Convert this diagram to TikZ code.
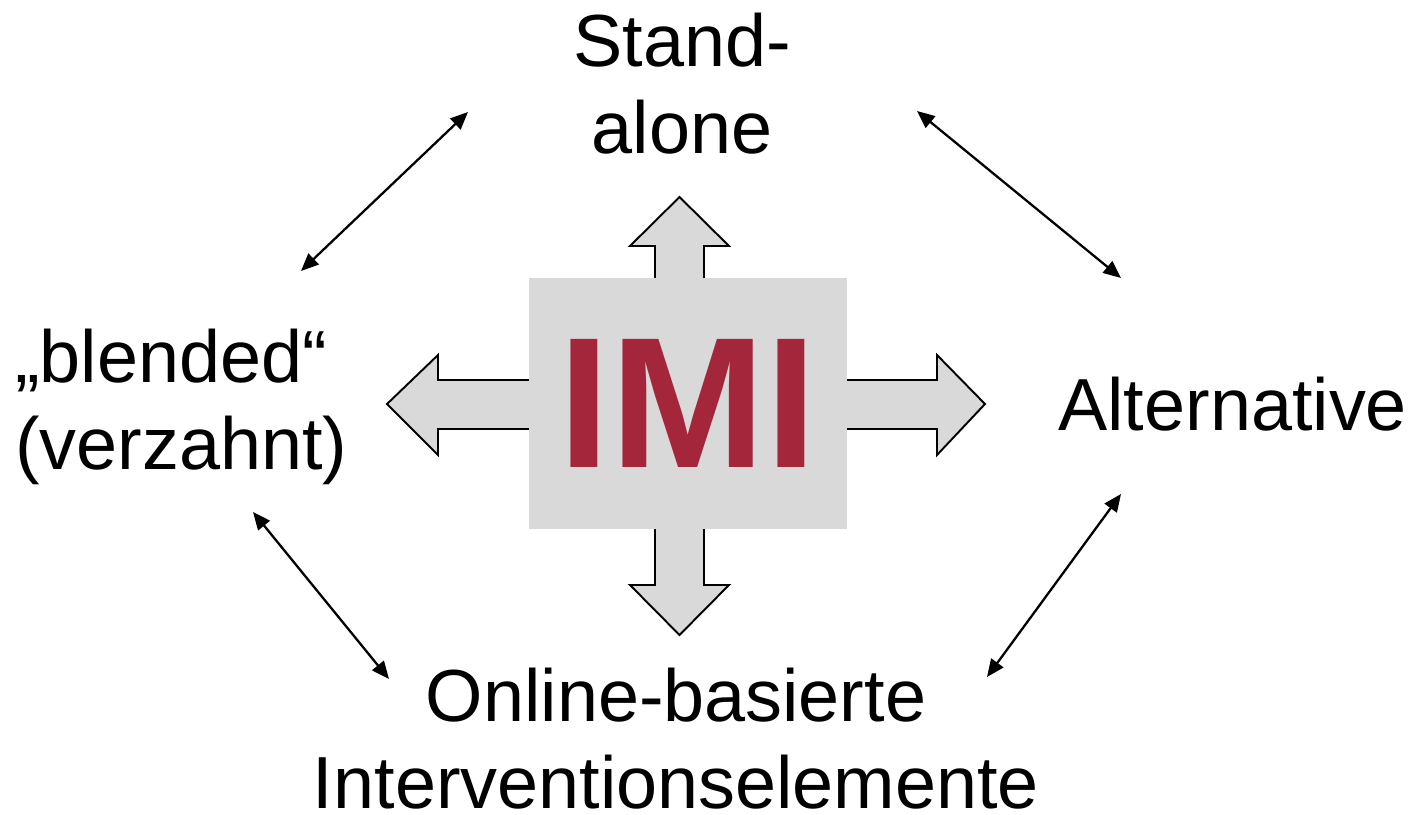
\documentclass[tikz,border=0pt]{standalone}
\usepackage{fontspec}
\setmainfont{Liberation Sans}
\usetikzlibrary{arrows.meta}
\definecolor{imigray}{HTML}{D9D9D9}
\definecolor{imired}{HTML}{A3263A}
\tikzset{
  blockarrow/.style={fill=imigray, draw=black, line width=1.1pt, line join=miter},
  labeltext/.style={font=\fontsize{42}{49}\selectfont, inner sep=0pt},
  linkarrow/.style={line width=1.3pt, {Triangle[length=10pt,width=8.5pt]}-{Triangle[length=10pt,width=8.5pt]}}
}
\begin{document}
\begin{tikzpicture}[x=0.02cm, y=-0.02cm]
        \useasboundingbox (0,0) rectangle (1418,815);

        \draw [blockarrow] (655,300)--(655,246)--(630,246)--(679.5,197)--(729,246)--(704,246)--(704,300);
        \draw [blockarrow] (655,500)--(655,585)--(630,585)--(679.5,635)--(729,585)--(704,585)--(704,500);
        \draw [blockarrow] (560,380)--(438,380)--(438,355)--(387,404)--(438,455)--(438,429)--(560,429);
        \draw [blockarrow] (820,380)--(937,380)--(937,355)--(985,404)--(937,455)--(937,429)--(820,429);

        \node (imi) at (688,403.5) [fill=imigray, inner sep=0pt, minimum width=6.36cm, minimum height=5.02cm,
          text=imired, font=\fontsize{106}{106}\selectfont\bfseries] {IMI};

        \node (stand) at (682,153) [labeltext, anchor=base, align=center] {Stand-\\alone};
        \node (blended) at (15,469) [labeltext, anchor=base west, align=left] {„blended“\\(verzahnt)};
        \node (alt) at (1058,430) [labeltext, anchor=base west] {Alternative};
        \node (online) at (676,808) [labeltext, anchor=base, align=center] {Online-basierte\\Interventionselemente};

        \coordinate (bl-top) at (301,271);
        \coordinate (st-left) at (468,112);
        \coordinate (st-right) at (917,111);
        \coordinate (alt-top) at (1121,278);
        \coordinate (bl-bot) at (253,512);
        \coordinate (on-left) at (389,679);
        \coordinate (alt-bot) at (1121,494);
        \coordinate (on-right) at (987,677);

        \draw [linkarrow] (bl-top) -- (st-left);
        \draw [linkarrow] (st-right) -- (alt-top);
        \draw [linkarrow] (bl-bot) -- (on-left);
        \draw [linkarrow] (alt-bot) -- (on-right);
      \end{tikzpicture}
\end{document}
